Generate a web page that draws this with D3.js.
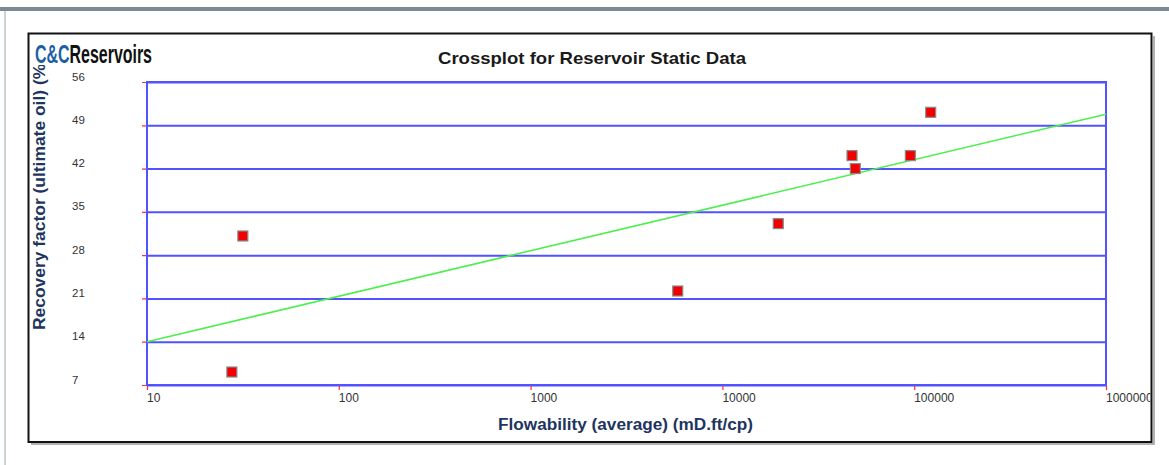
<!DOCTYPE html>
<html>
<head>
<meta charset="utf-8">
<script src="https://cdn.jsdelivr.net/npm/d3@7/dist/d3.min.js"></script>
<style>
  html, body { margin: 0; padding: 0; background: #fff; }
  svg { display: block; }
  text { font-family: "Liberation Sans", Arial, sans-serif; }
</style>
</head>
<body>
<svg id="chart" width="1169" height="465"></svg>
<script>
// ---- data ----
const flowability = [27.7, 31.6, 5850, 19550, 47400, 49300, 95500, 121900];
const recovery    = [9.1, 31.1, 22.2, 33.1, 44.1, 42.0, 44.1, 51.1];
const trendX = [10, 1000000];
const trendY = [14, 50.8];
const xTicks = [10, 100, 1000, 10000, 100000, 1000000];
const yTicks = [7, 14, 21, 28, 35, 42, 49, 56];
const chartTitle = "Crossplot for Reservoir Static Data";
const xTitle = "Flowability (average) (mD.ft/cp)";
const yTitle = "Recovery factor (ultimate oil) (%)";

// ---- layout ----
const svg = d3.select("#chart");
const L = 147, R = 1106, T = 82, B = 385;
const x = d3.scaleLog().domain([10, 1000000]).range([L, R]);
const y = d3.scaleLinear().domain([7, 56]).range([B, T]);

// page decorations
svg.append("rect").attr("x", 0).attr("y", 7).attr("width", 1169).attr("height", 4).attr("fill", "#7b8995");
svg.append("line").attr("x1", 5).attr("x2", 5).attr("y1", 11).attr("y2", 465)
  .attr("stroke", "#b9c4cf").attr("stroke-width", 1.5);

// frame with shadow
svg.append("path").attr("d", `M1154,36 V444 H31`).attr("fill", "none").attr("stroke", "#999").attr("stroke-width", 1.5);
svg.append("rect").attr("x", 28.5).attr("y", 33.5).attr("width", 1123).attr("height", 408.5)
  .attr("fill", "#fff").attr("stroke", "#111").attr("stroke-width", 2);

svg.append("defs").append("clipPath").attr("id", "frameclip")
  .append("rect").attr("x", 29.5).attr("y", 34.5).attr("width", 1121).attr("height", 406.5);
const g = svg.append("g").attr("clip-path", "url(#frameclip)");

const blue = "#5252ff";

// horizontal gridlines via axis
const yAxis = d3.axisLeft(y).tickValues(yTicks).tickSize(-(R - L)).tickFormat("");
g.append("g").attr("transform", `translate(${L},0)`).call(yAxis)
  .call(s => s.select(".domain").remove())
  .call(s => s.selectAll(".tick line").attr("stroke", blue).attr("stroke-width", 2));

// plot border
g.append("rect").attr("x", L).attr("y", T).attr("width", R - L).attr("height", B - T)
  .attr("fill", "none").attr("stroke", blue).attr("stroke-width", 2);

// red tick marks
const yTickAxis = d3.axisLeft(y).tickValues(yTicks).tickSize(4).tickFormat("");
g.append("g").attr("transform", `translate(${L - 1},0)`).call(yTickAxis)
  .call(s => s.select(".domain").remove())
  .call(s => s.selectAll(".tick line").attr("stroke", "#ff3030").attr("stroke-width", 1.2));
const xTickAxis = d3.axisBottom(x).tickValues(xTicks).tickSize(4).tickFormat("");
g.append("g").attr("transform", `translate(0,${B + 1})`).call(xTickAxis)
  .call(s => s.select(".domain").remove())
  .call(s => s.selectAll(".tick line").attr("stroke", "#ff3030").attr("stroke-width", 1.2));

// y tick labels
g.append("g").selectAll("text").data(yTicks).join("text")
  .attr("x", 72).attr("y", d => y(d) - 1.5)
  .attr("font-size", 11.5).attr("fill", "#333").text(d => d);

// x tick labels
g.append("g").selectAll("text").data(xTicks).join("text")
  .attr("x", d => x(d)).attr("y", 402)
  .attr("font-size", 12).attr("fill", "#333").text(d => d);

// trend line
g.append("path").datum(trendX.map((v, i) => [v, trendY[i]]))
  .attr("d", d3.line().x(d => x(d[0])).y(d => y(d[1])))
  .attr("fill", "none").attr("stroke", "#4cef4c").attr("stroke-width", 1.6);

// points
const s = 10;
g.append("g").selectAll("rect").data(flowability.map((v, i) => [v, recovery[i]])).join("rect")
  .attr("x", d => x(d[0]) - s / 2).attr("y", d => y(d[1]) - s / 2)
  .attr("width", s).attr("height", s)
  .attr("fill", "#f00000").attr("stroke", "#8a8a8a").attr("stroke-width", 1.2);

// chart title
g.append("text").attr("x", 438).attr("y", 64)
  .attr("textLength", 308).attr("lengthAdjust", "spacingAndGlyphs")
  .attr("font-size", 17).attr("font-weight", "bold").attr("fill", "#1a1a1a").text(chartTitle);

// x title
g.append("text").attr("x", 498).attr("y", 430)
  .attr("textLength", 255).attr("lengthAdjust", "spacingAndGlyphs")
  .attr("font-size", 16).attr("font-weight", "bold").attr("fill", "#1e3560").text(xTitle);

// y title
g.append("text").attr("transform", "translate(45,330) rotate(-90)").attr("text-anchor", "start")
  .attr("textLength", 272).attr("lengthAdjust", "spacingAndGlyphs")
  .attr("font-size", 16).attr("font-weight", "bold").attr("fill", "#1e3560").text(yTitle);

// logo
g.append("rect").attr("x", 31).attr("y", 36).attr("width", 126).attr("height", 29).attr("fill", "#fff");
const logo = g.append("text").attr("x", 35).attr("y", 63).attr("font-size", 26).attr("font-weight", "bold")
  .attr("font-family", "'Liberation Sans Narrow', 'DejaVu Sans Condensed', sans-serif")
  .attr("textLength", 117).attr("lengthAdjust", "spacingAndGlyphs");
logo.append("tspan").attr("fill", "#1d5fa6").text("C&C");
logo.append("tspan").attr("fill", "#111").text("Reservoirs");
</script>
</body>
</html>
